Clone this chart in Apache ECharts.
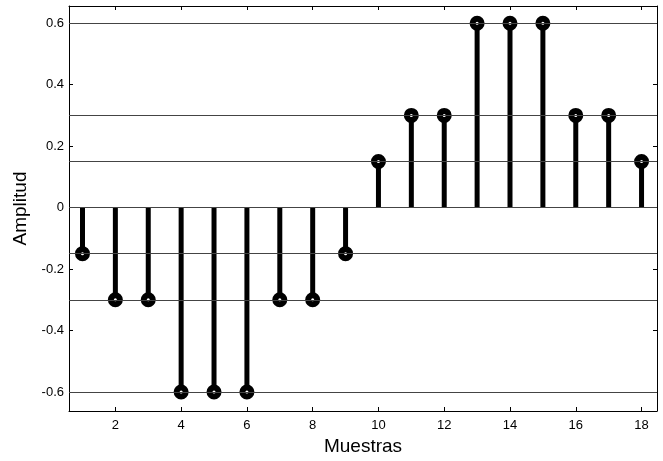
<!DOCTYPE html>
<html><head><meta charset="utf-8">
<script src="https://cdn.jsdelivr.net/npm/echarts@6/dist/echarts.min.js"></script>
<style>html,body{margin:0;padding:0;background:#fff}#c{width:663px;height:461px}</style>
</head><body><div id="c"></div>
<script>
const samples = [1,2,3,4,5,6,7,8,9,10,11,12,13,14,15,16,17,18];
const amplitudes = [-0.15,-0.3,-0.3,-0.6,-0.6,-0.6,-0.3,-0.3,-0.15,0.15,0.3,0.3,0.6,0.6,0.6,0.3,0.3,0.15];
const levels = [0.6,0.3,0.15,0,-0.15,-0.3,-0.6];
const xTicks = [2,4,6,8,10,12,14,16,18];
const yTicks = [-0.6,-0.4,-0.2,0,0.2,0.4,0.6];

const pts = samples.map((s,i)=>[s,amplitudes[i]]);
const font = 'Liberation Sans, Arial, sans-serif';
const X = {min:0.59,max:18.47};
const Y = {min:-0.662,max:0.656};
function xAx(pos, show){
  return {type:'value',position:pos,min:X.min,max:X.max,
    axisLine:{show:true,onZero:false,lineStyle:{color:'#000',width:1}},
    axisTick:{show:true,inside:true,length:4,customValues:xTicks,lineStyle:{color:'#000'}},
    axisLabel:{show:show,customValues:xTicks,color:'#000',fontFamily:font,fontSize:13,margin:8},
    splitLine:{show:false},
    name: show?'Muestras':'',nameLocation:'middle',nameGap:26,nameTextStyle:{color:'#000',fontFamily:font,fontSize:19}};
}
function yAx(pos, show){
  return {type:'value',position:pos,min:Y.min,max:Y.max,
    axisLine:{show:true,onZero:false,lineStyle:{color:'#000',width:1}},
    axisTick:{show:true,inside:true,length:4,customValues:yTicks,lineStyle:{color:'#000'}},
    axisLabel:{show:show,customValues:yTicks,color:'#000',fontFamily:font,fontSize:13,margin:5,
      formatter:v=>{const r=Math.round(v*10)/10;return r===0?'0':String(r);}},
    splitLine:{show:false},
    name: show?'Amplitud':'',nameLocation:'middle',nameGap:35,nameTextStyle:{color:'#000',fontFamily:font,fontSize:19}};
}
const chart = echarts.init(document.getElementById('c'));
chart.setOption({
  animation:false,
  backgroundColor:'#fff',
  grid:{left:69,top:6,right:6,bottom:47,containLabel:false},
  xAxis:[xAx('bottom',true),xAx('top',false)],
  yAxis:[yAx('left',true),yAx('right',false)],
  series:[
    {type:'line',data:[],xAxisIndex:0,yAxisIndex:0,silent:true,
     markLine:{symbol:'none',silent:true,label:{show:false},
       lineStyle:{color:'#444',width:1,type:'solid'},
       data:levels.map(v=>({yAxis:v}))}},
    {type:'bar',data:pts,barWidth:5,itemStyle:{color:'#000'},xAxisIndex:0,yAxisIndex:0,z:3},
    {type:'scatter',data:pts,symbol:'circle',symbolSize:9,
     itemStyle:{color:'#fff',borderColor:'#000',borderWidth:6,opacity:1},xAxisIndex:0,yAxisIndex:0,z:4}
  ]
});
</script></body></html>
